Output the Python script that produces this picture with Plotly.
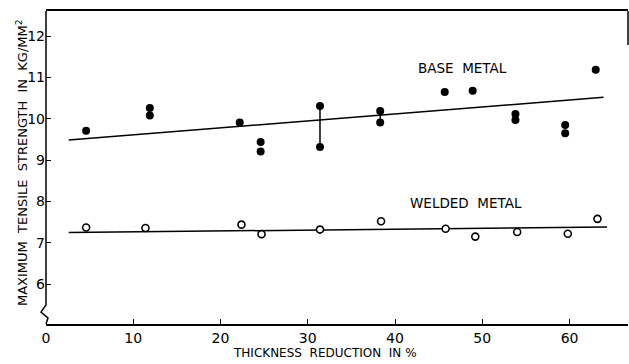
import plotly.graph_objects as go

# Base metal (filled dots)
base_x = [4.6, 11.9, 11.9, 22.2, 24.6, 24.6, 31.4, 31.4, 38.3, 38.3, 45.7, 48.9, 53.8, 53.8, 59.5, 59.5, 63.0]
base_y = [9.71, 10.26, 10.08, 9.91, 9.44, 9.21, 10.31, 9.32, 10.19, 9.91, 10.65, 10.68, 10.12, 9.97, 9.85, 9.65, 11.19]

# Welded metal (open circles)
weld_x = [4.6, 11.4, 22.4, 24.7, 31.4, 38.4, 45.8, 49.2, 54.0, 59.8, 63.2]
weld_y = [7.37, 7.36, 7.44, 7.21, 7.32, 7.52, 7.34, 7.15, 7.26, 7.22, 7.58]

# Trend lines (end points)
fit_x = [2.6, 63.9]
base_fit_y = [9.49, 10.52]
weld_fit_x = [2.6, 64.3]
weld_fit_y = [7.25, 7.38]

# Vertical connectors between paired readings
pair_x = [31.4, 38.3]
pair_lo = [9.32, 9.91]
pair_hi = [10.31, 10.19]

x_ticks = [0, 10, 20, 30, 40, 50, 60]
y_ticks = [6, 7, 8, 9, 10, 11, 12]

FONT = "DejaVu Sans"

fig = go.Figure()

cx, cy = [], []
for px, lo, hi in zip(pair_x, pair_lo, pair_hi):
    cx += [px, px, None]
    cy += [lo, hi, None]
fig.add_trace(go.Scatter(x=cx, y=cy, mode="lines", line=dict(color="black", width=1.5),
                         showlegend=False, hoverinfo="skip"))

fig.add_trace(go.Scatter(x=fit_x, y=base_fit_y, mode="lines",
                         line=dict(color="black", width=1.5), showlegend=False))
fig.add_trace(go.Scatter(x=weld_fit_x, y=weld_fit_y, mode="lines",
                         line=dict(color="black", width=1.5), showlegend=False))

fig.add_trace(go.Scatter(x=base_x, y=base_y, mode="markers",
                         marker=dict(color="black", size=8, line=dict(width=0)),
                         name="BASE METAL", showlegend=False))
fig.add_trace(go.Scatter(x=weld_x, y=weld_y, mode="markers",
                         marker=dict(color="white", size=7, line=dict(color="black", width=1.6)),
                         name="WELDED METAL", showlegend=False))

fig.add_annotation(x=47.7, y=11.23, text="BASE  METAL", showarrow=False,
                   xanchor="center", yanchor="middle",
                   font=dict(family=FONT, size=13.5, color="black"))
fig.add_annotation(x=48.1, y=7.96, text="WELDED  METAL", showarrow=False,
                   xanchor="center", yanchor="middle",
                   font=dict(family=FONT, size=13.5, color="black"))


def px2paper(xp, yp):
    return (xp - 46) / 582, (324 - yp) / 313


# axis titles
tx, ty = px2paper(325, 353)
fig.add_annotation(x=tx, y=ty, xref="paper", yref="paper",
                   xanchor="center", yanchor="middle",
                   text="THICKNESS  REDUCTION  IN %", showarrow=False,
                   font=dict(family=FONT, size=12, color="black"))
tx, ty = px2paper(22, 163)
fig.add_annotation(x=tx, y=ty, xref="paper", yref="paper", xanchor="center", yanchor="middle",
                   text="MAXIMUM  TENSILE  STRENGTH  IN  KG/MM<sup>2</sup>", textangle=-90,
                   showarrow=False, font=dict(family=FONT, size=13, color="black"))

# y axis line with break zigzag
pts = [(46, 11), (46, 305), (41, 312), (48, 318), (46, 324)]
path = "M " + " L ".join(f"{px2paper(a, b)[0]:.4f},{px2paper(a, b)[1]:.4f}" for a, b in pts)
fig.add_shape(type="path", path=path, xref="paper", yref="paper",
              line=dict(color="black", width=1.5))
# right border stub
fig.add_shape(type="line", xref="paper", yref="paper", x0=1, x1=1, y0=1, y1=px2paper(628, 45)[1],
              line=dict(color="black", width=1.5))

fig.update_xaxes(range=[0, 66.7], tickvals=x_ticks, ticktext=[str(t) for t in x_ticks],
                 ticks="inside", ticklen=5, tickwidth=1.2, tickcolor="black",
                 showline=True, mirror=True, linecolor="black", linewidth=1.5,
                 showgrid=False, zeroline=False,
                 tickfont=dict(family=FONT, size=14, color="black"))
fig.update_yaxes(range=[5.035, 12.61], tickvals=y_ticks, ticktext=[str(t) for t in y_ticks],
                 ticks="inside", ticklen=5, tickwidth=1.2, tickcolor="black",
                 showline=False, showgrid=False, zeroline=False,
                 tickfont=dict(family=FONT, size=14, color="black"))

fig.update_layout(width=629, height=364, margin=dict(l=46, r=1, t=11, b=40),
                  plot_bgcolor="white", paper_bgcolor="white", showlegend=False)

fig.write_html("out.html")
